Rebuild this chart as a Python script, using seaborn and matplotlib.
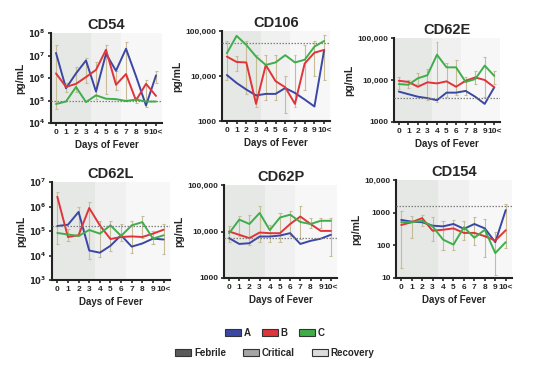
import numpy as np
import pandas as pd
import matplotlib
matplotlib.use("Agg")
import matplotlib.pyplot as plt
import matplotlib.ticker as mticker
from matplotlib.patches import Patch
import seaborn as sns

days = list(range(11))
day_labels = ["0", "1", "2", "3", "4", "5", "6", "7", "8", "9", "10<"]
groups = ["A", "B", "C"]
phases = ["Febrile", "Critical", "Recovery"]

# values (pg/mL)
cd54_a = [1.3e7, 3.5e5, 1.6e6, 6e6, 2.5e5, 1.2e7, 2.1e6, 2e7, 1.2e6, 6e4, 1.3e6]
cd54_b = [1.6e6, 4e5, 5.5e5, 1.1e6, 2.3e6, 1.8e7, 5e5, 1.5e6, 1e5, 5.5e5, 1.6e5]
cd54_c = [7e4, 9e4, 4e5, 8.5e4, 1.7e5, 1.2e5, 1.15e5, 9.5e4, 1.1e5, 9e4, 9e4]
cd54_lo = [4e4, 2.5e5, 2.5e5, 6e5, 1.2e5, 2e5, 3e5, 1e5, 8e4, 5e4, 6e5]
cd54_hi = [3e7, 6e5, 3e6, 8e6, 5e6, 3e7, 2e6, 4e7, 1.5e5, 8e5, 2e6]

cd106_a = [1.05e4, 7e3, 5e3, 3.7e3, 4e3, 4e3, 5.4e3, 4.2e3, 3e3, 2.1e3, 3.8e4]
cd106_b = [2.7e4, 2.05e4, 2e4, 2.4e3, 1.75e4, 7.7e3, 5.6e3, 2.4e3, 1.9e4, 3.3e4, 3.8e4]
cd106_c = [3.2e4, 7.8e4, 4.9e4, 2.7e4, 1.76e4, 2e4, 2.9e4, 2e4, 2.3e4, 4.5e4, 6e4]
cd106_lo = [8e3, 1.3e4, 4e3, 2e3, 3e3, 3e3, 1.5e3, 2e3, 5e3, 1e4, 8e3]
cd106_hi = [6e4, 2.8e4, 6e4, 3e4, 3e4, 3e4, 1e4, 3e4, 5e4, 6e4, 8e4]

cd62e_a = [5.3e3, 4.6e3, 4e3, 3.7e3, 3.3e3, 5e3, 5e3, 5.5e3, 4e3, 2.7e3, 6.7e3]
cd62e_b = [9.6e3, 9e3, 6.9e3, 8.8e3, 8.3e3, 9.3e3, 6.9e3, 9.6e3, 1.15e4, 1e4, 6.7e3]
cd62e_c = [8e3, 7.7e3, 1.1e4, 1.3e4, 4e4, 2e4, 2e4, 9e3, 1.05e4, 2.2e4, 1.25e4]
cd62e_lo = [6e3, 6.5e3, 8e3, 3.3e3, 3e3, 4e3, 4.5e3, 4.5e3, 8e3, 4e3, 8e3]
cd62e_hi = [1.2e4, 1e4, 1.5e4, 1.8e4, 8e4, 2.5e4, 3e4, 1.2e4, 1.6e4, 3.5e4, 1.6e4]

cd62l_a = [1.6e5, 1.8e5, 6e5, 1.6e4, 1.3e4, 2.5e4, 6.7e4, 2.3e4, 3.1e4, 4.9e4, 4.5e4]
cd62l_b = [2.5e6, 5.7e4, 6.7e4, 8.7e5, 1.7e5, 4.7e4, 5.7e4, 6e4, 5.7e4, 7.8e4, 1.13e5]
cd62l_c = [8.3e4, 7.2e4, 6.3e4, 1.1e5, 7.8e4, 1.7e5, 6.3e4, 1.7e5, 2.3e5, 4.9e4, 6.7e4]
cd62l_lo = [3e4, 4e4, 6e4, 7e3, 9e3, 1.5e4, 4e4, 1.3e4, 5e4, 3e4, 1.2e4]
cd62l_hi = [4e6, 1.2e5, 1e6, 1.5e6, 2.5e5, 2.5e5, 2e5, 2.5e5, 4e5, 1e5, 2e5]

cd62p_a = [7.2e3, 5.4e3, 5.6e3, 7.8e3, 7.8e3, 8.2e3, 9.2e3, 5.4e3, 6.3e3, 7e3, 8.5e3]
cd62p_b = [1e4, 8.5e3, 7.2e3, 9.5e3, 9.2e3, 9.2e3, 1.45e4, 2.1e4, 1.45e4, 1.03e4, 1.03e4]
cd62p_c = [9.2e3, 1.8e4, 1.45e4, 2.5e4, 1.07e4, 2e4, 2.3e4, 1.6e4, 1.45e4, 1.7e4, 1.7e4]
cd62p_lo = [6e3, 8e3, 5e3, 6e3, 6e3, 6e3, 8e3, 7e3, 1.2e4, 1.2e4, 3e3]
cd62p_hi = [1.3e4, 2.2e4, 2.3e4, 3.5e4, 1.4e4, 2.5e4, 2.8e4, 3.5e4, 2e4, 2e4, 2e4]

cd154_a = [600, 530, 510, 400, 380, 450, 320, 450, 330, 125, 1200]
cd154_b = [420, 510, 680, 280, 300, 330, 240, 240, 190, 140, 290]
cd154_c = [510, 510, 560, 380, 150, 105, 360, 170, 300, 58, 125]
cd154_lo = [20, 170, 400, 140, 70, 70, 150, 100, 45, 12, 85]
cd154_hi = [1100, 800, 850, 750, 550, 600, 550, 750, 650, 250, 1800]

ref_levels = {"CD54": 1e5, "CD106": 5.3e4, "CD62E": 3.8e3,
              "CD62L": 1.6e5, "CD62P": 7.2e3, "CD154": 1.6e3}

panels = [
    ("CD54", [cd54_a, cd54_b, cd54_c], cd54_lo, cd54_hi, (1e4, 1e8), "pow"),
    ("CD106", [cd106_a, cd106_b, cd106_c], cd106_lo, cd106_hi, (1e3, 1e5), "comma"),
    ("CD62E", [cd62e_a, cd62e_b, cd62e_c], cd62e_lo, cd62e_hi, (1e3, 1e5), "comma"),
    ("CD62L", [cd62l_a, cd62l_b, cd62l_c], cd62l_lo, cd62l_hi, (1e3, 1e7), "pow"),
    ("CD62P", [cd62p_a, cd62p_b, cd62p_c], cd62p_lo, cd62p_hi, (1e3, 1e5), "comma"),
    ("CD154", [cd154_a, cd154_b, cd154_c], cd154_lo, cd154_hi, (10, 1e4), "comma"),
]

# axes boxes in pixels: left, right, top, bottom
boxes = [(51, 162, 33, 123), (222, 330, 31, 121), (394, 500, 38, 122),
         (52, 170, 182, 280), (224, 337, 185, 278), (396, 512, 180, 278)]

colors = {"A": "#3a47a5", "B": "#e0343a", "C": "#3fae4a"}
phase_colors = ["#e6e8e6", "#f0f0f0", "#f7f7f7"]
legend_phase = ["#5a5a5a", "#a5a5a5", "#dcdcdc"]
err_color = "#c6bc98"

sns.set_theme(style="ticks")
plt.rcParams["font.family"] = ["Liberation Sans", "DejaVu Sans"]
plt.rcParams["font.weight"] = "bold"

W, H = 550, 368
fig = plt.figure(figsize=(W / 100, H / 100), dpi=100)


def fmt_comma(v, pos):
    if v >= 10000:
        return f"{int(v):,}"
    return f"{int(v)}"


def fmt_pow(v, pos):
    return r"$\mathbf{10^{%d}}$" % int(round(np.log10(v)))


for (name, series, lo, hi, ylim, style), (l, r, t, b) in zip(panels, boxes):
    ax = fig.add_axes([l / W, 1 - b / H, (r - l) / W, (b - t) / H])
    ax.axvspan(-0.5, 3.5, color=phase_colors[0], lw=0, zorder=0)
    ax.axvspan(3.5, 6.5, color=phase_colors[1], lw=0, zorder=0)
    ax.axvspan(6.5, 10.6, color=phase_colors[2], lw=0, zorder=0)

    df = pd.DataFrame({
        "day": days * 3,
        "value": sum(series, []),
        "group": [g for g in groups for _ in days],
    })
    x = np.array(days)
    ax.vlines(x, lo, hi, color=err_color, lw=0.8, zorder=2)
    ax.hlines(lo, x - 0.15, x + 0.15, color=err_color, lw=0.8, zorder=2)
    ax.hlines(hi, x - 0.15, x + 0.15, color=err_color, lw=0.8, zorder=2)
    sns.lineplot(data=df, x="day", y="value", hue="group", palette=colors,
                 lw=1.4, legend=False, ax=ax, zorder=3)
    ax.axhline(ref_levels[name], color="#808080", ls=(0, (1.2, 1.2)), lw=0.9, zorder=4)

    ax.set_yscale("log")
    ax.set_ylim(*ylim)
    ax.set_xlim(-0.5, 10.6)
    ax.yaxis.set_major_locator(mticker.LogLocator(base=10, numticks=10))
    ax.yaxis.set_minor_locator(mticker.NullLocator())
    ax.yaxis.set_major_formatter(mticker.FuncFormatter(fmt_pow if style == "pow" else fmt_comma))
    ax.set_xticks(days)
    ax.set_xticklabels(day_labels)
    ax.tick_params(axis="both", labelsize=6, width=1.2, length=2.5, pad=1.5)
    for lab in ax.get_xticklabels() + ax.get_yticklabels():
        lab.set_fontweight("bold")
    for s in ["left", "bottom"]:
        ax.spines[s].set_linewidth(1.5)
        ax.spines[s].set_color("#222222")
    sns.despine(ax=ax)
    ax.set_title(name, fontsize=10.5, fontweight="bold", pad=3)
    ax.set_xlabel("Days of Fever", fontsize=7, fontweight="bold", labelpad=3)
    ax.set_ylabel("pg/mL", fontsize=7.5, fontweight="bold", labelpad=2)

# legends at the bottom
group_handles = [Patch(facecolor=colors[g], edgecolor="#333333", lw=0.8) for g in groups]
phase_handles = [Patch(facecolor=c, edgecolor="#333333", lw=0.8) for c in legend_phase]
leg_kw = dict(frameon=False, handlelength=1.6, handleheight=0.7, handletextpad=0.3,
              prop={"size": 7, "weight": "bold"})
fig.legend(group_handles, groups, loc="center", bbox_to_anchor=(0.5, 1 - 333 / H),
           ncol=3, columnspacing=1.2, **leg_kw)
fig.legend(phase_handles, phases, loc="center", bbox_to_anchor=(0.5, 1 - 353 / H),
           ncol=3, columnspacing=1.8, **leg_kw)

fig.savefig("out.png", dpi=100, facecolor="white")
